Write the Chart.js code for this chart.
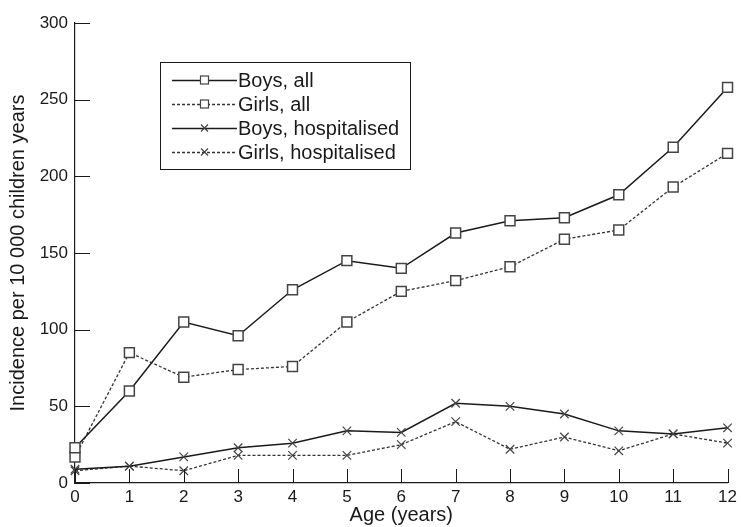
<!DOCTYPE html>
<html>
<head>
<meta charset="utf-8">
<title>Incidence by age</title>
<script src="https://cdn.jsdelivr.net/npm/chart.js@4.4.1/dist/chart.umd.min.js"></script>
<style>
  html, body { margin: 0; padding: 0; background: #fff; }
  #wrap { width: 741px; height: 527px; }
</style>
</head>
<body>
<div id="wrap"><canvas id="incidenceChart"></canvas></div>
<script>
// Age in years (x axis)
const ages = [0, 1, 2, 3, 4, 5, 6, 7, 8, 9, 10, 11, 12];

// Incidence per 10 000 children years
const boysAll = [23, 60, 105, 96, 126, 145, 140, 163, 171, 173, 188, 219, 258];
const girlsAll = [17, 85, 69, 74, 76, 105, 125, 132, 141, 159, 165, 193, 215];
const boysHosp = [9, 11, 17, 23, 26, 34, 33, 52, 50, 45, 34, 32, 36];
const girlsHosp = [8, 11, 8, 18, 18, 18, 25, 40, 22, 30, 21, 32, 26];

const seriesLabels = ['Boys, all', 'Girls, all', 'Boys, hospitalised', 'Girls, hospitalised'];
const yTicks = [0, 50, 100, 150, 200, 250, 300];

const FONT = '"Liberation Sans", Arial, Helvetica, sans-serif';
const INK = '#1a1a1a';

function toPoints(values) {
  return ages.map((a, i) => ({ x: a, y: values[i] }));
}

function makeDataset(label, values, dashed, marker) {
  const isBox = marker === 'rect';
  return {
    label: label,
    data: toPoints(values),
    borderColor: dashed ? '#333' : INK,
    borderWidth: dashed ? 1.3 : 1.5,
    borderDash: dashed ? [3, 2] : [],
    pointStyle: isBox ? 'rect' : 'crossRot',
    pointRadius: isBox ? 7 : 6,
    pointBorderWidth: isBox ? 1.5 : 1.2,
    pointBorderColor: '#444',
    pointBackgroundColor: '#fff',
    tension: 0,
    fill: false,
    clip: false
  };
}

// Inward tick marks on both axes
const innerTicks = {
  id: 'innerTicks',
  afterDraw(chart) {
    const { ctx, chartArea, scales } = chart;
    ctx.save();
    ctx.strokeStyle = INK;
    ctx.lineWidth = 1;
    ctx.beginPath();
    scales.y.ticks.forEach(t => {
      const py = Math.round(scales.y.getPixelForValue(t.value)) + 0.5;
      ctx.moveTo(chartArea.left, py);
      ctx.lineTo(chartArea.left + 15, py);
    });
    scales.x.ticks.forEach(t => {
      const px = Math.round(scales.x.getPixelForValue(t.value)) + 0.5;
      ctx.moveTo(px, chartArea.bottom);
      ctx.lineTo(px, chartArea.bottom - 14);
    });
    ctx.stroke();
    ctx.restore();
  }
};

// Boxed legend with line + marker samples
const boxedLegend = {
  id: 'boxedLegend',
  afterDraw(chart, args, opts) {
    const { ctx } = chart;
    const left = opts.left, top = opts.top, w = opts.width, h = opts.height;
    ctx.save();
    ctx.strokeStyle = INK;
    ctx.lineWidth = 1;
    ctx.strokeRect(left + 0.5, top + 0.5, w, h);
    ctx.font = '20px ' + FONT;
    ctx.textBaseline = 'middle';
    chart.data.datasets.forEach((ds, i) => {
      const cy = opts.firstRow + i * opts.rowStep;
      const x0 = left + 12, x1 = left + 77;
      ctx.beginPath();
      ctx.setLineDash(ds.borderDash);
      ctx.strokeStyle = ds.borderColor;
      ctx.lineWidth = ds.borderWidth;
      ctx.moveTo(x0, cy + 0.5);
      ctx.lineTo(x1, cy + 0.5);
      ctx.stroke();
      ctx.setLineDash([]);
      const mx = (x0 + x1) / 2;
      ctx.strokeStyle = ds.pointBorderColor;
      ctx.fillStyle = ds.pointBackgroundColor;
      ctx.lineWidth = 1.2;
      if (ds.pointStyle === 'rect') {
        ctx.fillRect(mx - 4, cy - 4, 8, 8);
        ctx.strokeRect(mx - 4, cy - 4, 8, 8);
      } else {
        ctx.beginPath();
        ctx.moveTo(mx - 3.5, cy - 3.5); ctx.lineTo(mx + 3.5, cy + 3.5);
        ctx.moveTo(mx + 3.5, cy - 3.5); ctx.lineTo(mx - 3.5, cy + 3.5);
        ctx.stroke();
      }
      ctx.fillStyle = INK;
      ctx.fillText(ds.label, x1 + 1, cy + 1);
    });
    ctx.restore();
  }
};

new Chart(document.getElementById('incidenceChart'), {
  type: 'line',
  data: {
    datasets: [
      makeDataset(seriesLabels[0], boysAll, false, 'rect'),
      makeDataset(seriesLabels[1], girlsAll, true, 'rect'),
      makeDataset(seriesLabels[2], boysHosp, false, 'cross'),
      makeDataset(seriesLabels[3], girlsHosp, true, 'cross')
    ]
  },
  plugins: [innerTicks, boxedLegend],
  options: {
    responsive: true,
    maintainAspectRatio: false,
    animation: false,
    layout: { padding: { top: 23, right: 10, left: 0, bottom: 0 } },
    scales: {
      x: {
        type: 'linear',
        min: 0,
        max: 12,
        afterFit: s => { s.height = 44; },
        ticks: {
          stepSize: 1,
          color: INK,
          padding: 4,
          font: { family: FONT, size: 17 }
        },
        grid: { display: false, drawTicks: false },
        border: { display: true, color: INK, width: 1.2 },
        title: {
          display: true,
          text: 'Age (years)',
          color: INK,
          padding: { top: 0, bottom: 0 },
          font: { family: FONT, size: 20 }
        }
      },
      y: {
        min: 0,
        max: 300,
        afterFit: s => { s.width = 75; },
        afterBuildTicks: s => { s.ticks = yTicks.map(v => ({ value: v })); },
        ticks: {
          color: INK,
          padding: 7,
          font: { family: FONT, size: 17 }
        },
        grid: { display: false, drawTicks: false },
        border: { display: true, color: INK, width: 1.2 },
        title: {
          display: true,
          text: 'Incidence per 10 000 children years',
          color: INK,
          padding: { top: 6, bottom: 0 },
          font: { family: FONT, size: 20 }
        }
      }
    },
    plugins: {
      legend: { display: false },
      tooltip: { enabled: false },
      boxedLegend: { left: 160, top: 62, width: 250, height: 107, firstRow: 80, rowStep: 24 }
    }
  }
});
</script>
</body>
</html>
